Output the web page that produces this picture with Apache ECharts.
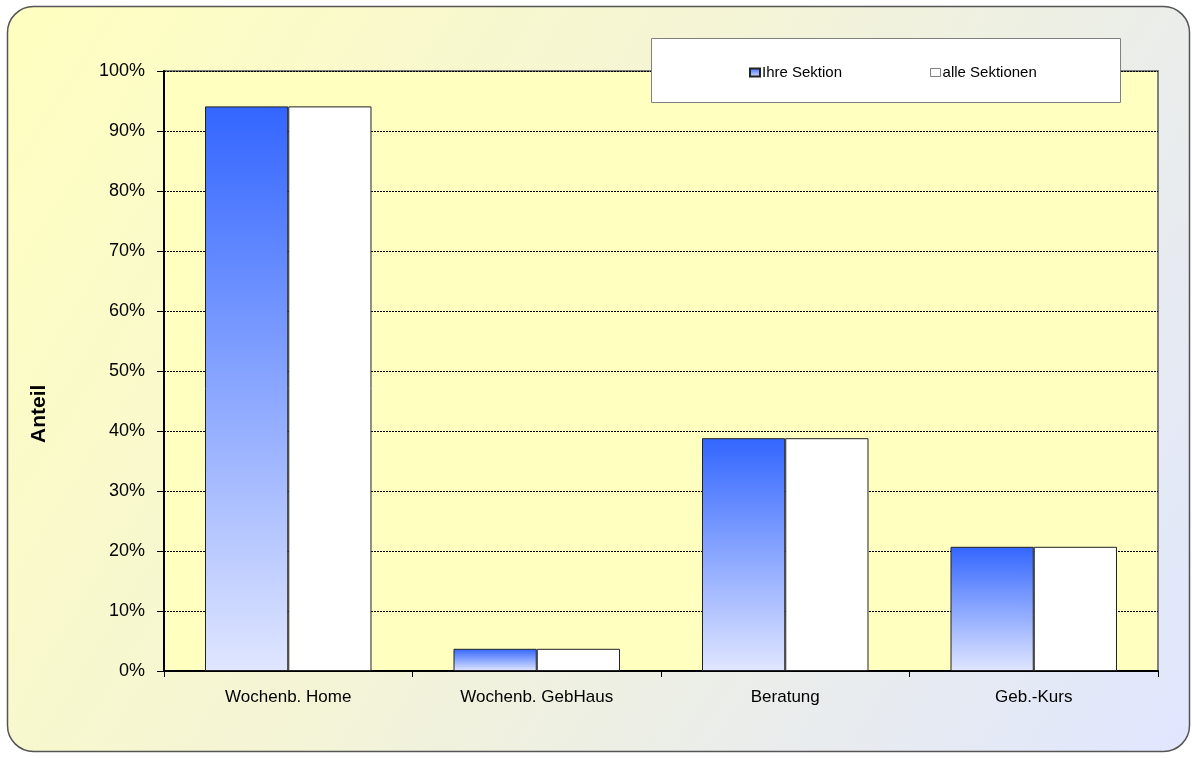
<!DOCTYPE html>
<html>
<head>
<meta charset="utf-8">
<script src="https://cdn.jsdelivr.net/npm/echarts@6/dist/echarts.min.js"></script>
<style>
html,body{margin:0;padding:0;background:#fff;}
#c{width:1192px;height:758px;}
</style>
</head>
<body>
<div id="c"></div>
<script>
const categories = ['Wochenb. Home', 'Wochenb. GebHaus', 'Beratung', 'Geb.-Kurs'];
const ihreSektion = [0.941, 0.037, 0.388, 0.207];
const alleSektionen = [0.941, 0.037, 0.388, 0.207];
const seriesNames = ['Ihre Sektion', 'alle Sektionen'];
const yTicks = [0, 0.1, 0.2, 0.3, 0.4, 0.5, 0.6, 0.7, 0.8, 0.9, 1.0];

const FONT = '"Liberation Sans", Arial, sans-serif';

const chart = echarts.init(document.getElementById('c'), null, {renderer: 'canvas'});

const blueGrad = new echarts.graphic.LinearGradient(0, 0, 0, 1, [
  {offset: 0, color: '#3366FF'},
  {offset: 1, color: '#E0E6FF'}
]);

const option = {
  animation: false,
  textStyle: {fontFamily: FONT},
  graphic: [
    {
      type: 'rect', z: -10, silent: true,
      shape: {x: 7.5, y: 6.5, width: 1182, height: 745, r: 26},
      style: {
        fill: new echarts.graphic.LinearGradient(0, 0, 1, 1, [
          {offset: 0, color: '#FFFFC0'},
          {offset: 0.45, color: '#F4F4D6'},
          {offset: 1, color: '#E0E6FF'}
        ]),
        stroke: '#555555', lineWidth: 1.5
      }
    },
    {
      type: 'rect', z: 5, silent: true,
      shape: {x: 651.5, y: 38.5, width: 469, height: 64},
      style: {fill: '#FFFFFF', stroke: '#808080', lineWidth: 1}
    },
    {
      type: 'text', z: 10, silent: true,
      rotation: Math.PI / 2,
      x: 29, y: 443,
      style: {text: 'Anteil', font: 'bold 21px ' + FONT, fill: '#000'}
    }
  ],
  legend: {
    z: 10,
    top: 60,
    left: 744,
    itemGap: 88,
    itemWidth: 10,
    itemHeight: 8,
    icon: 'rect',
    textStyle: {fontSize: 15, color: '#000', fontFamily: FONT, padding: [0, 0, 0, -3]},
    data: [
      {name: seriesNames[0]},
      {name: seriesNames[1], itemStyle: {borderColor: '#808080', borderWidth: 1}}
    ]
  },
  grid: {
    left: 164, right: 34, top: 71, bottom: 87,
    show: true,
    backgroundColor: '#FFFFC0',
    borderColor: '#808080',
    borderWidth: 2
  },
  xAxis: {
    type: 'category',
    data: categories,
    axisLine: {lineStyle: {color: '#000', width: 2}},
    axisTick: {show: true, length: 6, lineStyle: {color: '#000', width: 1}},
    axisLabel: {fontSize: 17, color: '#000', margin: 18, fontFamily: FONT},
    splitLine: {show: false}
  },
  yAxis: {
    type: 'value',
    min: 0, max: 1, interval: 0.1,
    axisLine: {show: true, lineStyle: {color: '#000', width: 2}},
    axisTick: {show: true, length: 7, lineStyle: {color: '#000', width: 1}},
    axisLabel: {
      fontSize: 18, color: '#000', margin: 19, fontFamily: FONT,
      formatter: v => Math.round(v * 100) + '%'
    },
    splitLine: {show: true, lineStyle: {color: '#000', width: 1, type: [2, 1]}}
  },
  series: [
    {
      name: seriesNames[0],
      type: 'bar',
      data: ihreSektion,
      barGap: '0%',
      barCategoryGap: '33%',
      itemStyle: {color: blueGrad, borderColor: '#222', borderWidth: 1}
    },
    {
      name: seriesNames[1],
      type: 'bar',
      data: alleSektionen,
      itemStyle: {color: '#FFFFFF', borderColor: '#222', borderWidth: 1}
    }
  ]
};
chart.setOption(option);
</script>
</body>
</html>
